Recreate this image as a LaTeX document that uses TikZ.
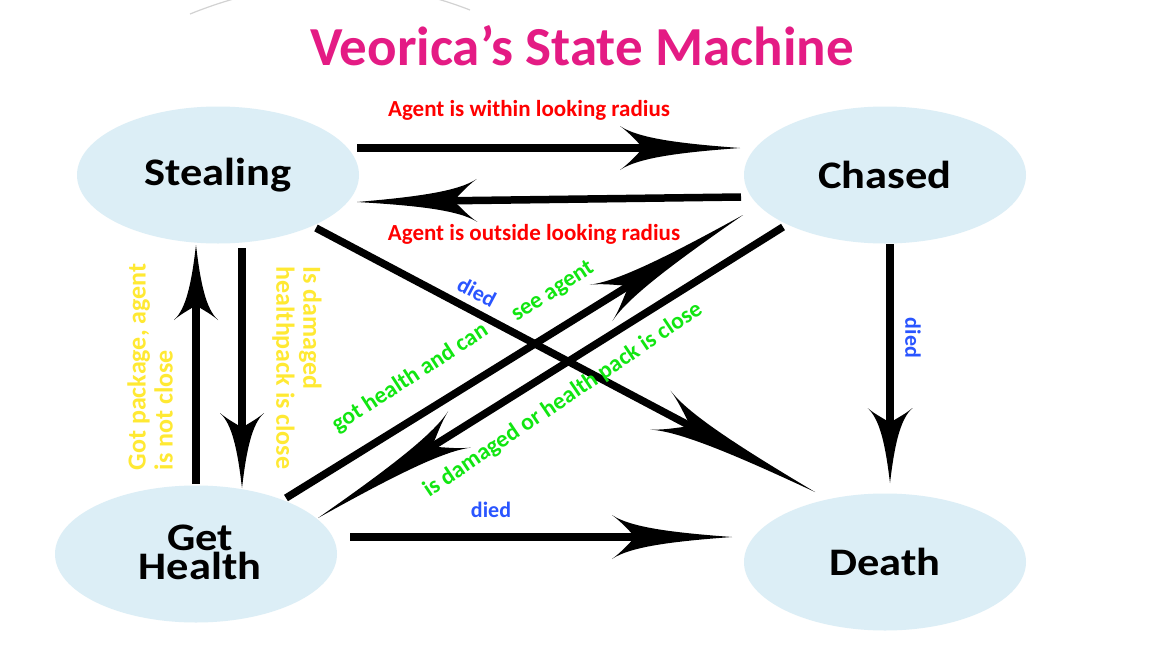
\documentclass[tikz,border=0pt]{standalone}
\usepackage{fontspec}
\setmainfont{Carlito}
\newfontfamily\statefont{Carlito}[FakeStretch=1.14]
\usetikzlibrary{arrows.meta,shapes.geometric,calc}

\pgfdeclarearrow{
  name = Barb,
  parameters = {\the\pgfarrowlength,\the\pgfarrowwidth},
  setup code = {
    \pgfarrowssettipend{\pgfarrowlength}
    \pgfarrowssetbackend{0pt}
    \pgfarrowssetlineend{.3\pgfarrowlength}
    \pgfarrowssavethe\pgfarrowlength
    \pgfarrowssavethe\pgfarrowwidth
  },
  drawing code = {
    \pgfpathmoveto{\pgfqpoint{\pgfarrowlength}{0pt}}
    \pgfpathcurveto{\pgfqpoint{.5\pgfarrowlength}{.1\pgfarrowwidth}}{\pgfqpoint{.15\pgfarrowlength}{.22\pgfarrowwidth}}{\pgfqpoint{0pt}{.5\pgfarrowwidth}}
    \pgfpathcurveto{\pgfqpoint{.1\pgfarrowlength}{.3\pgfarrowwidth}}{\pgfqpoint{.15\pgfarrowlength}{.1\pgfarrowwidth}}{\pgfqpoint{.2\pgfarrowlength}{0pt}}
    \pgfpathcurveto{\pgfqpoint{.15\pgfarrowlength}{-.1\pgfarrowwidth}}{\pgfqpoint{.1\pgfarrowlength}{-.3\pgfarrowwidth}}{\pgfqpoint{0pt}{-.5\pgfarrowwidth}}
    \pgfpathcurveto{\pgfqpoint{.15\pgfarrowlength}{-.22\pgfarrowwidth}}{\pgfqpoint{.5\pgfarrowlength}{-.1\pgfarrowwidth}}{\pgfqpoint{\pgfarrowlength}{0pt}}
    \pgfpathclose
    \pgfusepathqfill
  },
  defaults = {length=120pt, width=44pt}
}

\definecolor{titlepink}{HTML}{E41B84}
\definecolor{ellblue}{HTML}{DCEEF6}
\definecolor{lblred}{HTML}{FF0000}
\definecolor{lblgreen}{HTML}{11E611}
\definecolor{lblyellow}{HTML}{FFE933}
\definecolor{lblblue}{HTML}{2A55FF}

\begin{document}
\begin{tikzpicture}[x=1pt,y=-1pt,
  state/.style={ellipse, fill=ellblue, draw=none, inner sep=0pt,
    minimum width=282pt, minimum height=137pt,
    font=\statefont\fontsize{39}{29}\selectfont\bfseries, align=center},
  statetext/.style={inner sep=0pt, font=\statefont\fontsize{39}{29}\selectfont\bfseries, align=center},
  arr/.style={line width=7.5pt, black},
  redlbl/.style={text=lblred, font=\fontsize{23}{27}\selectfont\bfseries},
  greenlbl/.style={text=lblgreen, font=\fontsize{23.5}{27}\selectfont\bfseries},
  yellbl/.style={text=lblyellow, font=\fontsize{26}{27}\selectfont\bfseries, align=left},
  bluelbl/.style={text=lblblue, font=\fontsize{22}{26}\selectfont\bfseries}
]
\useasboundingbox (0,0) rectangle (1152,648);
\fill[white] (0,0) rectangle (1152,648);
\begin{scope}
  \clip (0,0) rectangle (1152,648);
  \draw[gray!35, line width=1.2pt] (190,14) .. controls (286.7,-25) and (380,-25) .. (470,10);
\end{scope}

\node[text=titlepink, font=\fontsize{55}{60}\selectfont\bfseries] (title) at (582,46) {Veorica’s State Machine};

\node[state] (st) at (218,175) {Stealing};
\node[state] (ch) at (885,175) {Chased};
\node[state] (gh) at (196,554) {};
\node[statetext] (ght) at (200,552) {Get\\Health};
\node[state] (de) at (885,562) {Death};

% Stealing <-> Chased
\draw[arr, -{Barb[length=120pt,width=44pt]}] ([shift={(139,-27)}]st.center) -- ([shift={(-145,-27)}]ch.center);
\draw[arr, -{Barb[length=120pt,width=43pt]}] ([shift={(-144,22)}]ch.center) -- ([shift={(139,27)}]st.center);
% Stealing -> Death
\draw[arr, -{Barb[length=175pt,width=44pt]}] ([shift={(98,53)}]st.center) -- ([shift={(-70,-70)}]de.center);
% Chased -> Death
\draw[arr, -{Barb[length=75pt,width=45pt]}] ([shift={(5,69)}]ch.center) -- ([shift={(5,-79)}]de.center);
% Get Health -> Death
\draw[arr, -{Barb[length=120pt,width=44pt]}] ([shift={(154,-17)}]gh.center) -- ([shift={(-153,-25)}]de.center);
% Stealing <-> Get Health
\draw[arr, -{Barb[length=75pt,width=44pt]}] ([shift={(24,73)}]st.center) -- ([shift={(46,-66)}]gh.center);
\draw[arr, -{Barb[length=75pt,width=44pt]}] ([shift={(0,-70)}]gh.center) -- ([shift={(-22,70)}]st.center);
% Get Health <-> Chased
\draw[arr, -{Barb[length=167pt,width=43pt]}] ([shift={(90,-56)}]gh.center) -- ([shift={(-142,40)}]ch.center);
\draw[arr, -{Barb[length=167pt,width=43pt]}] ([shift={(-102,52)}]ch.center) -- ([shift={(122,-36)}]gh.center);

% labels
\node[redlbl] (l1) at (529,110) {Agent is within looking radius};
\node[redlbl] (l2) at (534,234) {Agent is outside looking radius};
\node[bluelbl, rotate=-28] (l3) at (477,292) {died};
\node[bluelbl, rotate=-90] (l4) at (913,338) {died};
\node[bluelbl] (l5) at (491,510) {died};
\node[greenlbl, rotate=33] (l6) at (410,378) {got health and can};
\node[greenlbl, rotate=33] (l7) at (553,292) {see agent};
\node[greenlbl, rotate=34] (l8) at (563,400) {is damaged or health pack is close};
\node[yellbl, rotate=90] (l9) at (150,367) {Got package, agent\\is not close};
\node[yellbl, rotate=-90] (l10) at (297,368) {Is damaged\\healthpack is close};
\end{tikzpicture}
\end{document}
